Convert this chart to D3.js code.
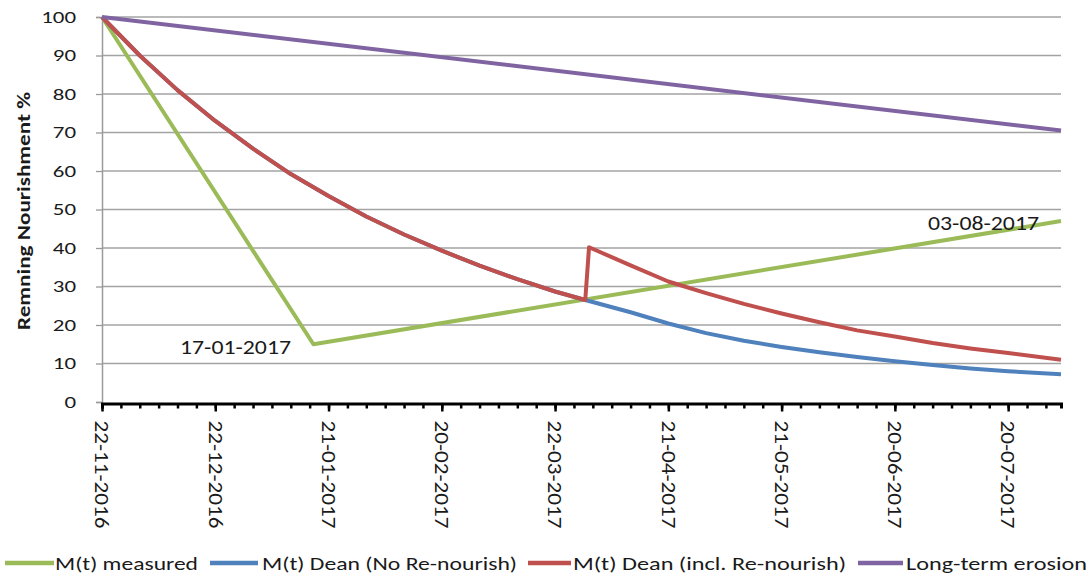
<!DOCTYPE html>
<html>
<head>
<meta charset="utf-8">
<script src="https://cdn.jsdelivr.net/npm/d3@7"></script>
<style>
  html, body { margin: 0; padding: 0; background: #fff; }
  svg { display: block; }
  text { font-family: Carlito, Lato, "Open Sans", sans-serif; fill: #1a1a1a; }
</style>
</head>
<body>
<svg id="chart" width="1089" height="578"></svg>
<script>
// ---------- data ----------
const seriesNames = ["M(t) measured", "M(t) Dean (No Re-nourish)", "M(t) Dean (incl. Re-nourish)", "Long-term erosion"];
const seriesColors = ["#9bbb59", "#4f81bd", "#c0504d", "#8064a2"];

const measuredDates = ["22-11-2016", "17-01-2017", "03-08-2017"];
const measuredValues = [100, 15, 47];

const deanDates = ["22-11-2016", "02-12-2016", "12-12-2016", "22-12-2016", "01-01-2017", "11-01-2017",
  "21-01-2017", "31-01-2017", "10-02-2017", "20-02-2017", "02-03-2017", "12-03-2017", "22-03-2017",
  "30-03-2017", "11-04-2017", "21-04-2017", "01-05-2017", "11-05-2017", "21-05-2017", "31-05-2017",
  "10-06-2017", "20-06-2017", "30-06-2017", "10-07-2017", "20-07-2017", "03-08-2017"];
const deanNoValues = [100, 90, 81, 73, 65.8, 59.2, 53.5, 48.2, 43.5, 39.3, 35.4, 31.9, 28.7,
  26.5, 23.3, 20.4, 17.9, 15.9, 14.3, 12.9, 11.7, 10.6, 9.6, 8.7, 8.0, 7.2];

const deanReDates = ["22-11-2016", "02-12-2016", "12-12-2016", "22-12-2016", "01-01-2017", "11-01-2017",
  "21-01-2017", "31-01-2017", "10-02-2017", "20-02-2017", "02-03-2017", "12-03-2017", "22-03-2017",
  "30-03-2017", "31-03-2017", "11-04-2017", "21-04-2017", "01-05-2017", "11-05-2017", "21-05-2017",
  "31-05-2017", "10-06-2017", "20-06-2017", "30-06-2017", "10-07-2017", "20-07-2017", "03-08-2017"];
const deanReValues = [100, 90, 81, 73, 65.8, 59.2, 53.5, 48.2, 43.5, 39.3, 35.4, 31.9, 28.7,
  26.5, 40.2, 35.5, 31.3, 28.3, 25.5, 23.0, 20.7, 18.6, 17.0, 15.3, 13.9, 12.7, 11.0];

const erosionDates = ["22-11-2016", "03-08-2017"];
const erosionValues = [100, 70.5];

const xTickLabels = ["22-11-2016", "22-12-2016", "21-01-2017", "20-02-2017", "22-03-2017",
  "21-04-2017", "21-05-2017", "20-06-2017", "20-07-2017"];
const yTickValues = [0, 10, 20, 30, 40, 50, 60, 70, 80, 90, 100];
const annotationLabels = ["17-01-2017", "03-08-2017"];
const yTitle = "Remning Nourishment %";

// ---------- setup ----------
const parse = d3.timeParse("%d-%m-%Y");
const svg = d3.select("#chart");
const plotLeft = 102, plotRight = 1061, plotTop = 17, plotBottom = 402;

const x = d3.scaleTime()
  .domain([parse("22-11-2016"), parse("03-08-2017")])
  .range([plotLeft, plotRight]);
const y = d3.scaleLinear().domain([0, 100]).range([plotBottom, plotTop]);

// gridlines
svg.append("g").selectAll("line").data(yTickValues.filter(v => v > 0)).join("line")
  .attr("x1", plotLeft).attr("x2", plotRight)
  .attr("y1", d => y(d)).attr("y2", d => y(d))
  .attr("stroke", "#a3a3a3").attr("stroke-width", 1.3);

// y axis
const yAxis = d3.axisLeft(y).tickValues(yTickValues).tickSize(6).tickPadding(20).tickFormat(d3.format("d"));
const gy = svg.append("g").attr("transform", `translate(${plotLeft},0)`).call(yAxis);
gy.select(".domain").attr("stroke", "#9a9a9a").attr("stroke-width", 1.5);
gy.selectAll(".tick line").attr("stroke", "#9a9a9a").attr("stroke-width", 1.3);
gy.selectAll(".tick text")
  .style("font-size", "16px").style("font-family", "Carlito, Lato, sans-serif").attr("fill", "#1a1a1a")
  .attr("textLength", d => String(d).length * 11.6)
  .attr("lengthAdjust", "spacingAndGlyphs");

// lines
const line = d3.line().x(d => x(d.date)).y(d => y(d.value));
function series(dates, values) {
  return dates.map((s, i) => ({ date: parse(s), value: values[i] }));
}
const allSeries = [
  series(measuredDates, measuredValues),
  series(deanDates, deanNoValues),
  series(deanReDates, deanReValues),
  series(erosionDates, erosionValues)
];
svg.append("g").selectAll("path").data(allSeries).join("path")
  .attr("d", line)
  .attr("fill", "none")
  .attr("stroke", (d, i) => seriesColors[i])
  .attr("stroke-width", 4)
  .attr("stroke-linejoin", "round");

// x axis
const start = parse("22-11-2016"), end = parse("03-08-2017");
const minorTicks = d3.timeDay.range(start, d3.timeDay.offset(end, 1), 5);
const majorTicks = xTickLabels.map(parse);
const gx = svg.append("g").attr("transform", `translate(0,${plotBottom + 1.5})`);
gx.call(d3.axisBottom(x).tickValues(minorTicks).tickSize(5).tickFormat(""));
gx.select(".domain").attr("stroke", "#000").attr("stroke-width", 3);
gx.selectAll(".tick line").attr("stroke", "#000").attr("stroke-width", 2.5);
const gx2 = svg.append("g").attr("transform", `translate(0,${plotBottom + 1.5})`);
gx2.call(d3.axisBottom(x).tickValues(majorTicks).tickSize(8).tickFormat(d3.timeFormat("%d-%m-%Y")));
gx2.select(".domain").remove();
gx2.selectAll(".tick line").attr("stroke", "#000").attr("stroke-width", 2.5);
gx2.selectAll(".tick text")
  .attr("transform", "rotate(90)")
  .attr("x", 17).attr("y", 0).attr("dy", "0.36em")
  .attr("text-anchor", "start")
  .style("font-size", "20px").style("font-family", "Carlito, Lato, sans-serif").attr("fill", "#1a1a1a")
  .attr("textLength", 108).attr("lengthAdjust", "spacingAndGlyphs");

// annotations
const annX = [180, 928];
const annY = [354, 230];
svg.append("g").selectAll("text").data(annotationLabels).join("text")
  .attr("x", (d, i) => annX[i]).attr("y", (d, i) => annY[i])
  .style("font-size", "21px")
  .attr("textLength", 111).attr("lengthAdjust", "spacingAndGlyphs")
  .text(d => d);

// y title
svg.append("text")
  .attr("transform", `translate(24,211) rotate(-90)`)
  .attr("text-anchor", "middle").attr("dy", "0.36em")
  .style("font-size", "17px").style("font-weight", "bold")
  .attr("textLength", 238).attr("lengthAdjust", "spacingAndGlyphs")
  .text(yTitle);

// legend
const legLineX = [5, 210, 528, 858];
const legLineW = [49, 48, 43, 45];
const legTextX = [55, 262, 573, 906];
const legTextW = [143, 255, 273, 181];
const legY = 563;
const lg = svg.append("g");
lg.selectAll("line").data(seriesNames).join("line")
  .attr("x1", (d, i) => legLineX[i]).attr("x2", (d, i) => legLineX[i] + legLineW[i])
  .attr("y1", legY).attr("y2", legY)
  .attr("stroke", (d, i) => seriesColors[i]).attr("stroke-width", 4.5);
lg.selectAll("text").data(seriesNames).join("text")
  .attr("x", (d, i) => legTextX[i]).attr("y", legY).attr("dy", "0.36em")
  .style("font-size", "19px")
  .attr("textLength", (d, i) => legTextW[i]).attr("lengthAdjust", "spacingAndGlyphs")
  .text(d => d);
</script>
</body>
</html>
